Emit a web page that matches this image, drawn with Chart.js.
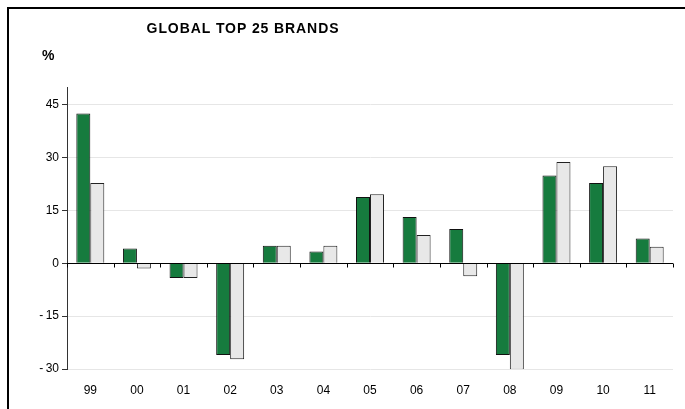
<!DOCTYPE html>
<html>
<head>
<meta charset="utf-8">
<script src="https://cdn.jsdelivr.net/npm/chart.js@4/dist/chart.umd.min.js"></script>
<style>
  html, body { margin: 0; padding: 0; background: #fff; }
  #wrap { width: 685px; height: 409px; }
</style>
</head>
<body>
<div id="wrap"><canvas id="brands" width="685" height="409"></canvas></div>
<script>
const years = ['99', '00', '01', '02', '03', '04', '05', '06', '07', '08', '09', '10', '11'];
const greenSeries = [42.5, 4.2, -4.2, -26, 5, 3.3, 18.8, 13.1, 9.7, -26, 24.9, 22.8, 7];
const greySeries = [22.8, -1.5, -4.2, -27.2, 5, 5, 19.6, 8, -3.7, -30.2, 28.7, 27.5, 4.7];
const yTicks = [-30, -15, 0, 15, 30, 45];

const FONT = "'Liberation Sans', Arial, sans-serif";

// frame, title, % label, zero line and its ticks
const extras = {
    id: 'extras',
    beforeDraw(chart) {
        const ctx = chart.ctx;
        ctx.save();
        ctx.fillStyle = '#fff';
        ctx.fillRect(0, 0, chart.width, chart.height);
        ctx.strokeStyle = '#000';
        ctx.lineWidth = 2;
        ctx.beginPath();
        ctx.moveTo(8, 409);
        ctx.lineTo(8, 8);
        ctx.lineTo(685, 8);
        ctx.stroke();

        ctx.fillStyle = '#000';
        ctx.font = 'bold 14px ' + FONT;
        ctx.letterSpacing = '0.9px';
        ctx.textAlign = 'center';
        ctx.textBaseline = 'middle';
        ctx.fillText('GLOBAL TOP 25 BRANDS', 243, 29);
        ctx.letterSpacing = '0px';
        ctx.textAlign = 'left';
        ctx.fillText('%', 42, 56);
        ctx.restore();
    },
    afterDatasetsDraw(chart) {
        const ctx = chart.ctx;
        const x = chart.scales.x;
        const y0 = Math.round(chart.scales.y.getPixelForValue(0)) + 0.5;
        ctx.save();
        ctx.strokeStyle = '#000';
        ctx.lineWidth = 1;
        ctx.beginPath();
        ctx.moveTo(chart.chartArea.left, y0);
        ctx.lineTo(chart.chartArea.right, y0);
        const half = (x.getPixelForValue(1) - x.getPixelForValue(0)) / 2;
        for (let i = 0; i <= years.length; i++) {
            const px = Math.round(x.getPixelForValue(i) - half) + 0.5;
            ctx.moveTo(px, y0);
            ctx.lineTo(px, y0 + 4);
        }
        ctx.stroke();
        ctx.restore();
    }
};

new Chart(document.getElementById('brands'), {
    type: 'bar',
    data: {
        labels: years,
        datasets: [{
            data: greenSeries,
            backgroundColor: '#167b3e',
            borderColor: '#111',
            borderWidth: 1
        }, {
            data: greySeries,
            backgroundColor: '#e8e8e8',
            borderColor: '#222',
            borderWidth: 1
        }]
    },
    options: {
        responsive: false,
        animation: false,
        layout: { padding: { left: 0, top: 87, right: 12, bottom: 0 } },
        categoryPercentage: 0.6,
        barPercentage: 1.0,
        plugins: {
            legend: { display: false },
            tooltip: { enabled: false }
        },
        scales: {
            x: {
                offset: true,
                grid: { display: false },
                border: { display: false },
                ticks: { color: '#000', font: { family: FONT, size: 12 }, padding: 6, maxRotation: 0 },
                afterFit(scale) { scale.height = 40; }
            },
            y: {
                min: -30,
                max: 50,
                afterBuildTicks(scale) {
                    scale.ticks = yTicks.map(v => ({ value: v }));
                },
                grid: {
                    color: ctx => ctx.tick && ctx.tick.value === 0 ? 'rgba(0,0,0,0)' : '#e6e6e6',
                    tickColor: '#333',
                    tickLength: 5
                },
                border: { color: '#333', width: 1 },
                ticks: {
                    color: '#000',
                    font: { family: FONT, size: 12 },
                    padding: 3,
                    callback: v => v < 0 ? '-\u2009' + Math.abs(v) : String(v)
                },
                afterFit(scale) { scale.width = 67; }
            }
        }
    },
    plugins: [extras]
});
</script>
</body>
</html>
